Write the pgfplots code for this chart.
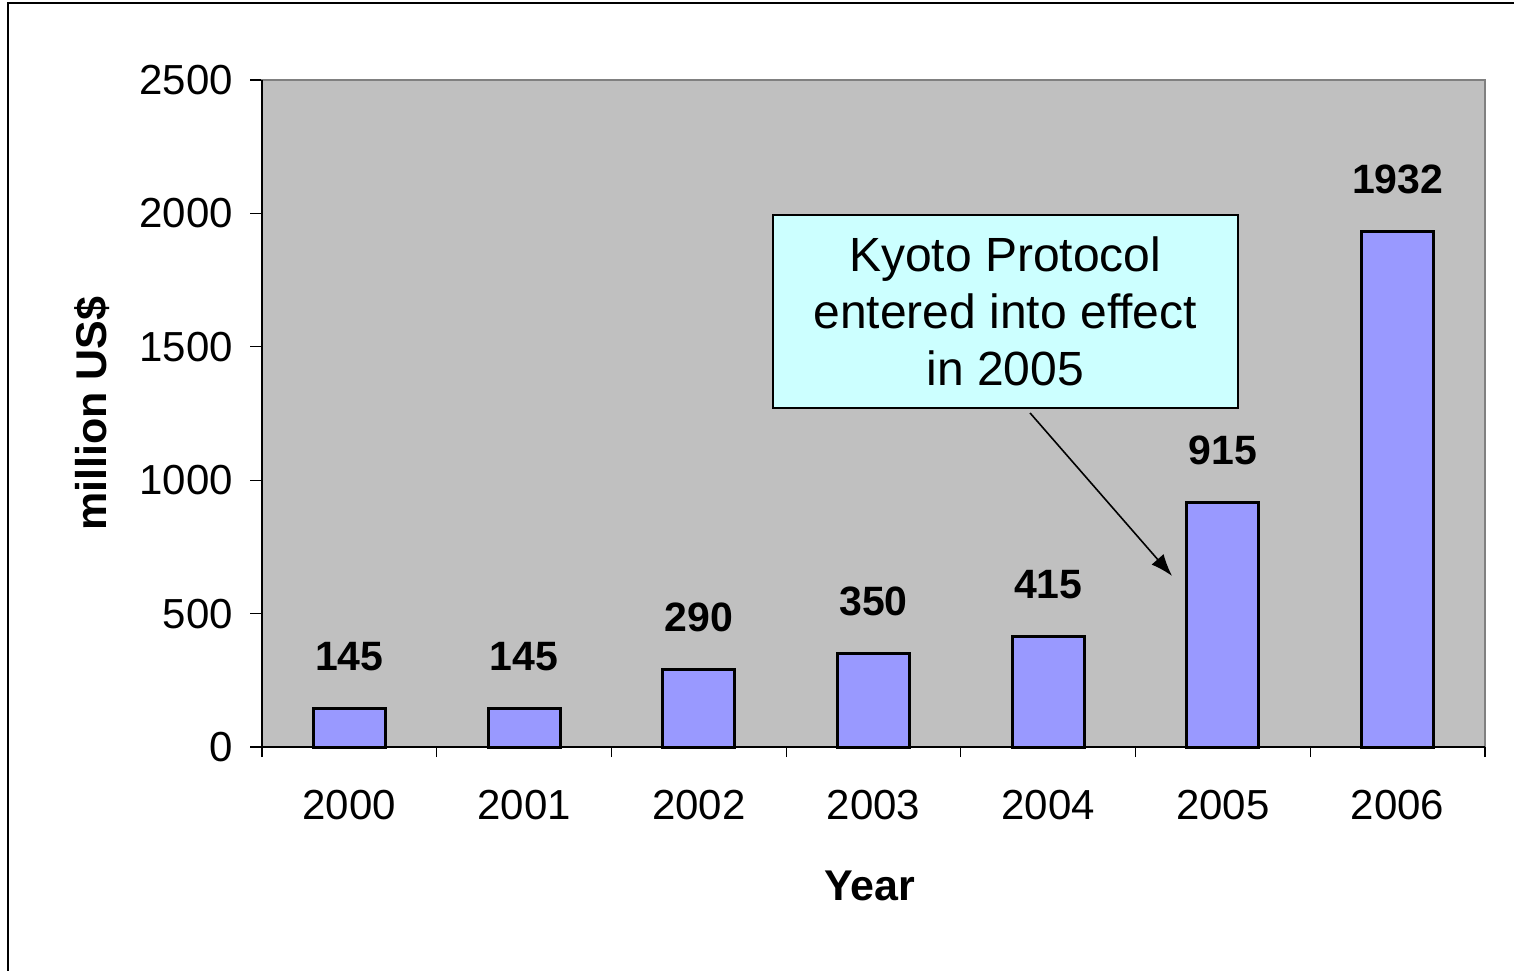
\documentclass[border=0pt]{standalone}
\usepackage{pgfplots}
\pgfplotsset{compat=1.18}
\usetikzlibrary{arrows.meta}
\usepackage{fontspec}
\setmainfont{Liberation Sans}
\definecolor{plotbg}{HTML}{C0C0C0}
\definecolor{barfill}{HTML}{9999FF}
\definecolor{boxfill}{HTML}{CCFFFF}
\definecolor{frameg}{HTML}{808080}
\begin{document}
\begin{tikzpicture}
\useasboundingbox (0,0) rectangle (757pt,485pt);
\draw[line width=1pt] (4pt,-1pt) -- (4pt,483.5pt) -- (758pt,483.5pt);
\begin{axis}[
  at={(131pt,111.5pt)}, anchor=south west,
  scale only axis, width=611.5pt, height=333.5pt,
  axis background/.style={fill=plotbg},
  axis line style={draw=frameg, line width=1pt},
  xmin=-0.5, xmax=6.5, ymin=0, ymax=2500,
  ytick={0,500,...,2500},
  xtick={0,...,6},
  xticklabels={2000,2001,2002,2003,2004,2005,2006},
  xtick pos=bottom, ytick pos=left,
  /pgf/number format/assume math mode=true,
  /pgf/number format/1000 sep={},
  tick align=outside,
  major tick length=6pt,
  tick style={black, line width=0.6pt},
  x tick style={draw=none},
  extra x ticks={-0.5,0.5,...,6.5},
  extra x tick labels={},
  extra x tick style={x tick style={draw=black, line width=0.6pt}, major tick length=5pt},
  ticklabel style={font=\fontsize{21}{25}\selectfont},
  xticklabel style={yshift=-12pt},
  yticklabel style={xshift=-5pt},
  ymajorgrids=false, xmajorgrids=false,
  xlabel={Year},
  ylabel={million US\$},
  xlabel style={font=\bfseries\fontsize{21.5}{25}\selectfont, at={(axis description cs:0.497,-0.2084)}, anchor=center},
  ylabel style={font=\bfseries\fontsize{21.5}{25}\selectfont, at={(axis description cs:-0.139,0.5)}, anchor=center, rotate=0},
  clip=false,
]
\addplot[ybar, bar width=36pt, fill=barfill, draw=black, line width=1.5pt,
  nodes near coords,
  nodes near coords style={font=\bfseries\fontsize{20.5}{24}\selectfont, anchor=center, yshift=26pt, text=black}]
  coordinates {(0,145) (1,145) (2,290) (3,350) (4,415) (5,915) (6,1932)};
\draw[black, line width=0.8pt] (axis cs:-0.5,0) -- (axis cs:-0.5,2500);
\draw[black, line width=0.8pt] (axis cs:-0.5,0) -- (axis cs:6.5,0);
\draw[black, line width=0.8pt, fill=boxfill] (axis cs:2.425,1270.6) rectangle (axis cs:5.086,1994);
\node[align=center, font=\fontsize{24}{28.5}\selectfont] at (axis cs:3.754,1632) {Kyoto Protocol\\entered into effect\\in 2005};
\draw[black, line width=0.8pt, -{Latex[length=11pt,width=8pt]}] (axis cs:3.896,1252) -- (axis cs:4.709,641);
\end{axis}
\end{tikzpicture}
\end{document}
